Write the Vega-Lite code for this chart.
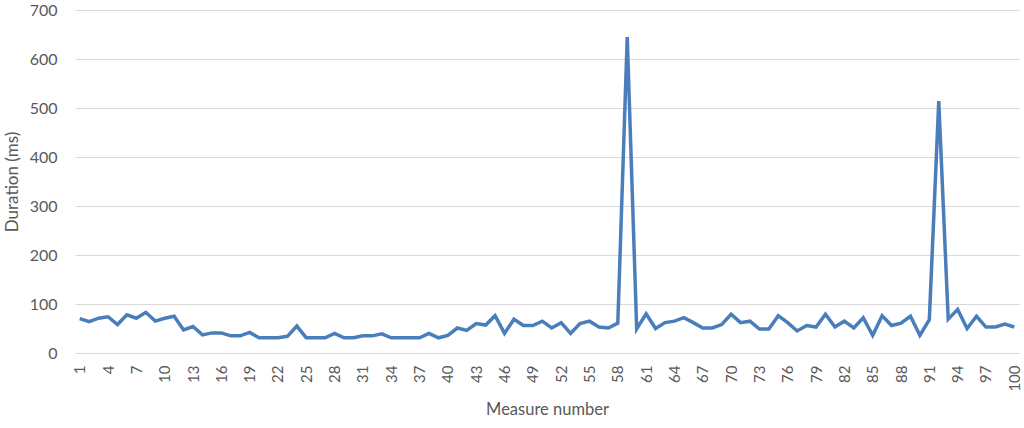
{
  "$schema": "https://vega.github.io/schema/vega-lite/v6.json",
  "width": 944,
  "height": 343,
  "autosize": "none",
  "padding": {"left": 75, "top": 10, "right": 5, "bottom": 75},
  "background": "white",
  "config": {
    "view": {"stroke": null},
    "font": "Lato",
    "axis": {"labelFont": "Lato", "titleFont": "Lato", "labelColor": "#595959", "titleColor": "#595959", "titleFontWeight": "normal"}
  },
  "data": {
    "values": [
      {"m": 1, "d": 70}, {"m": 2, "d": 64}, {"m": 3, "d": 71}, {"m": 4, "d": 74}, {"m": 5, "d": 58},
      {"m": 6, "d": 78}, {"m": 7, "d": 71}, {"m": 8, "d": 83}, {"m": 9, "d": 65}, {"m": 10, "d": 71},
      {"m": 11, "d": 75}, {"m": 12, "d": 47}, {"m": 13, "d": 54}, {"m": 14, "d": 37}, {"m": 15, "d": 41},
      {"m": 16, "d": 41}, {"m": 17, "d": 35}, {"m": 18, "d": 35}, {"m": 19, "d": 42}, {"m": 20, "d": 31},
      {"m": 21, "d": 31}, {"m": 22, "d": 31}, {"m": 23, "d": 34}, {"m": 24, "d": 55}, {"m": 25, "d": 31},
      {"m": 26, "d": 31}, {"m": 27, "d": 31}, {"m": 28, "d": 40}, {"m": 29, "d": 31}, {"m": 30, "d": 31},
      {"m": 31, "d": 35}, {"m": 32, "d": 35}, {"m": 33, "d": 39}, {"m": 34, "d": 31}, {"m": 35, "d": 31},
      {"m": 36, "d": 31}, {"m": 37, "d": 31}, {"m": 38, "d": 40}, {"m": 39, "d": 31}, {"m": 40, "d": 36},
      {"m": 41, "d": 51}, {"m": 42, "d": 46}, {"m": 43, "d": 60}, {"m": 44, "d": 57}, {"m": 45, "d": 76},
      {"m": 46, "d": 40}, {"m": 47, "d": 69}, {"m": 48, "d": 56}, {"m": 49, "d": 56}, {"m": 50, "d": 65},
      {"m": 51, "d": 51}, {"m": 52, "d": 62}, {"m": 53, "d": 40}, {"m": 54, "d": 60}, {"m": 55, "d": 65},
      {"m": 56, "d": 53}, {"m": 57, "d": 51}, {"m": 58, "d": 61}, {"m": 59, "d": 645}, {"m": 60, "d": 49},
      {"m": 61, "d": 80}, {"m": 62, "d": 50}, {"m": 63, "d": 62}, {"m": 64, "d": 65}, {"m": 65, "d": 72},
      {"m": 66, "d": 62}, {"m": 67, "d": 51}, {"m": 68, "d": 51}, {"m": 69, "d": 58}, {"m": 70, "d": 79},
      {"m": 71, "d": 62}, {"m": 72, "d": 65}, {"m": 73, "d": 49}, {"m": 74, "d": 49}, {"m": 75, "d": 76},
      {"m": 76, "d": 62}, {"m": 77, "d": 45}, {"m": 78, "d": 56}, {"m": 79, "d": 53}, {"m": 80, "d": 79},
      {"m": 81, "d": 53}, {"m": 82, "d": 65}, {"m": 83, "d": 51}, {"m": 84, "d": 72}, {"m": 85, "d": 36},
      {"m": 86, "d": 76}, {"m": 87, "d": 56}, {"m": 88, "d": 61}, {"m": 89, "d": 75}, {"m": 90, "d": 36},
      {"m": 91, "d": 68}, {"m": 92, "d": 514}, {"m": 93, "d": 69}, {"m": 94, "d": 89}, {"m": 95, "d": 50},
      {"m": 96, "d": 75}, {"m": 97, "d": 53}, {"m": 98, "d": 53}, {"m": 99, "d": 59}, {"m": 100, "d": 53}
    ]
  },
  "mark": {"type": "line", "color": "#4a7ebb", "strokeWidth": 3.5, "strokeJoin": "miter"},
  "encoding": {
    "x": {
      "field": "m",
      "type": "ordinal",
      "sort": "ascending",
      "scale": {"type": "point", "padding": 0.5},
      "axis": {
        "title": "Measure number",
        "titleFontSize": 16.5,
        "titlePadding": 10,
        "labelFontSize": 15,
        "labelAngle": -90,
        "labelPadding": 12,
        "labelOverlap": false,
        "ticks": false,
        "domain": true,
        "domainColor": "#d9d9d9",
        "grid": false,
        "values": [1, 4, 7, 10, 13, 16, 19, 22, 25, 28, 31, 34, 37, 40, 43, 46, 49, 52, 55, 58, 61, 64, 67, 70, 73, 76, 79, 82, 85, 88, 91, 94, 97, 100]
      }
    },
    "y": {
      "field": "d",
      "type": "quantitative",
      "scale": {"domain": [0, 700], "nice": false},
      "axis": {
        "title": "Duration (ms)",
        "titleFontSize": 17,
        "titlePadding": 8,
        "labelFontSize": 16,
        "labelPadding": 18,
        "labelOverlap": false,
        "ticks": false,
        "domain": false,
        "grid": true,
        "gridColor": "#d9d9d9",
        "values": [0, 100, 200, 300, 400, 500, 600, 700]
      }
    }
  }
}
